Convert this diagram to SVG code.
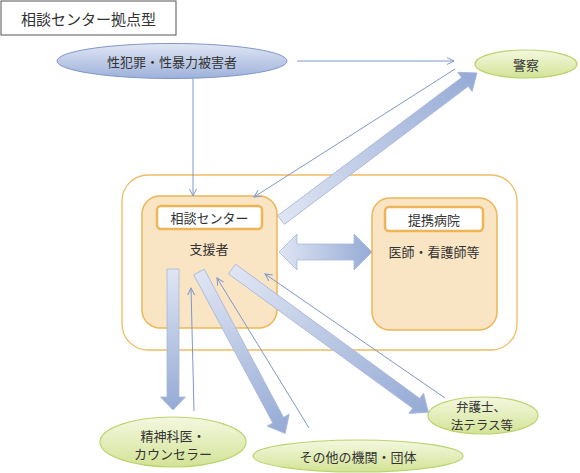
<svg xmlns="http://www.w3.org/2000/svg" width="580" height="473" viewBox="0 0 580 473">
  <defs>
    <linearGradient id="gBlue" x1="0" y1="0" x2="0" y2="1">
      <stop offset="0" stop-color="#e0e6f4"/>
      <stop offset="1" stop-color="#9eb1da"/>
    </linearGradient>
    <linearGradient id="gGreen" x1="0" y1="0" x2="0" y2="1">
      <stop offset="0" stop-color="#f4f8e0"/>
      <stop offset="1" stop-color="#d3e396"/>
    </linearGradient>
    <linearGradient id="gArrow" x1="0" y1="0" x2="1" y2="0">
      <stop offset="0" stop-color="#dfe5f3"/>
      <stop offset="1" stop-color="#95aad5"/>
    </linearGradient>
    <marker id="open" markerUnits="userSpaceOnUse" markerWidth="10" markerHeight="10" refX="7" refY="3.5" orient="auto" overflow="visible">
      <path d="M0,0 L7,3.5 L0,7" fill="none" stroke="#7f98cc" stroke-width="1"/>
    </marker>
  </defs>
  <style>
    text { font-family: "Noto Sans CJK JP", "Noto Sans", sans-serif; fill: #333333; text-anchor: middle; dominant-baseline: central; }
    .t13 { font-size: 13px; }
    .t12 { font-size: 12.5px; }
    .t15 { font-size: 15px; }
    .box { fill: #f9e4c4; stroke: #eeb557; stroke-width: 1.5; }
    .lbl { fill: #ffffff; stroke: #eeb557; stroke-width: 2.5; }
    .ellB { fill: url(#gBlue); stroke: #7f97cb; stroke-width: 1; }
    .ellG { fill: url(#gGreen); stroke: #bcd36c; stroke-width: 1.2; }
    .thick { fill: url(#gArrow); stroke: #a6b7dc; stroke-width: 0.8; }
    .thin { fill: none; stroke: #7f98cc; stroke-width: 1; marker-end: url(#open); }
  </style>

  <g id="title">
    <rect x="1" y="1" width="175" height="34" fill="#ffffff" stroke="#555555" stroke-width="1"/>
    <text class="t15" x="88.5" y="18">相談センター拠点型</text>
  </g>

  <g id="hub">
    <rect x="122" y="175" width="395" height="175" rx="26" fill="#ffffff" stroke="#f1bb62" stroke-width="1.3"/>
  </g>

  <g id="victim">
    <ellipse cx="172" cy="61" rx="115" ry="17.5" class="ellB"/>
    <text class="t13" x="172" y="61">性犯罪・性暴力被害者</text>
  </g>

  <g id="police">
    <ellipse cx="526" cy="64" rx="51" ry="14" class="ellG"/>
    <text class="t13" x="526" y="64">警察</text>
  </g>

  <g id="center">
    <rect x="142" y="196" width="135" height="132" rx="18" class="box"/>
    <rect x="157" y="206" width="105" height="23" rx="4" class="lbl"/>
    <text class="t13" x="209.5" y="217.5">相談センター</text>
    <text class="t13" x="209" y="248">支援者</text>
  </g>

  <g id="hospital">
    <rect x="372" y="198" width="125" height="132" rx="18" class="box"/>
    <rect x="385" y="207" width="98" height="24" rx="4" class="lbl"/>
    <text class="t13" x="434" y="219">提携病院</text>
    <text class="t13" x="434" y="251">医師・看護師等</text>
  </g>

  <g id="psych">
    <ellipse cx="173" cy="442" rx="73" ry="25" class="ellG"/>
    <text class="t13" x="173" y="435">精神科医・</text>
    <text class="t13" x="173" y="453">カウンセラー</text>
  </g>

  <g id="others">
    <ellipse cx="358" cy="456" rx="105" ry="16" class="ellG"/>
    <text class="t13" x="358" y="456">その他の機関・団体</text>
  </g>

  <g id="lawyer">
    <ellipse cx="483" cy="415.5" rx="55" ry="18.5" class="ellG"/>
    <text class="t12" x="481" y="406">弁護士、</text>
    <text class="t12" x="482" y="424.5">法テラス等</text>
  </g>

  <g id="connectors">
    <path class="thick" d="M279,252 L297,234 L297,244 L354,244 L354,234 L372,252 L354,270 L354,260 L297,260 L297,270 Z"/>
    <path class="thick" transform="translate(281,220) rotate(-36.9)" d="M0,-5.5 L230,-5.5 L230,-12 L245,0 L230,12 L230,5.5 L0,5.5 Z"/>
    <path class="thick" transform="translate(173,269) rotate(90)" d="M0,-6 L128,-6 L128,-12.5 L141,0 L128,12.5 L128,6 L0,6 Z"/>
    <path class="thick" transform="translate(199,272) rotate(61.9)" d="M0,-6 L168,-6 L168,-12.5 L183,0 L168,12.5 L168,6 L0,6 Z"/>
    <path class="thick" transform="translate(232,269) rotate(36.1)" d="M0,-6 L228,-6 L228,-12.5 L243,0 L228,12.5 L228,6 L0,6 Z"/>

    <line class="thin" x1="297" y1="61" x2="454" y2="61"/>
    <line class="thin" x1="455" y1="69" x2="254" y2="197"/>
    <line class="thin" x1="193" y1="78" x2="193" y2="196"/>
    <line class="thin" x1="194" y1="411" x2="191" y2="288"/>
    <line class="thin" x1="309" y1="428" x2="217" y2="278"/>
    <line class="thin" x1="445" y1="398" x2="265" y2="274"/>
  </g>
</svg>
